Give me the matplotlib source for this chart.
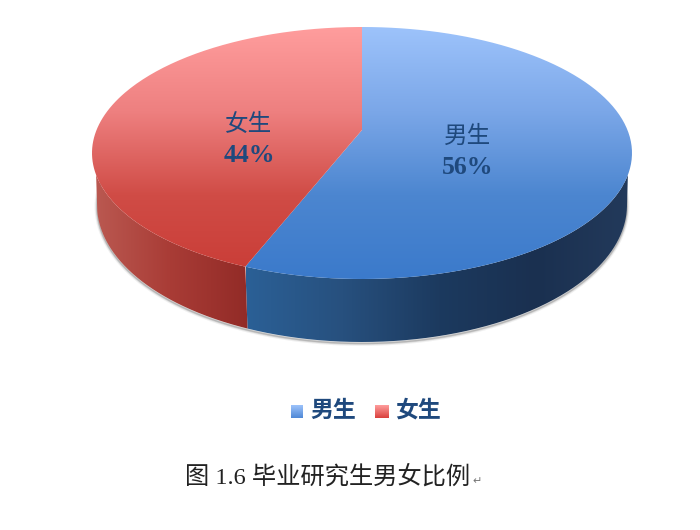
import numpy as np
import matplotlib
matplotlib.use('Agg')
import matplotlib.pyplot as plt
from matplotlib.colors import LinearSegmentedColormap
from matplotlib.path import Path
from matplotlib.patches import PathPatch

# 数据
categories = ['男生', '女生']
shares = [56, 44]
caption = '图 1.6 毕业研究生男女比例'

plt.rcParams['font.family'] = ['Noto Sans CJK SC', 'DejaVu Sans']
serif = ['Liberation Serif', 'Noto Sans CJK SC']

W, H = 700, 530
fig = plt.figure(figsize=(W / 100, H / 100), dpi=100, facecolor='white')
ax = fig.add_axes([0, 0, 1, 1])
ax.axis('off')

# 椭圆参数
cx, cy, rx, ry = 362, 153, 270, 126
bot_rx, bot_cy, bot_ry = 265, 205, 137   # 底面椭圆(透视后略小)
apex = (362, 130)
skew = 4   # 透视造成的角度偏移


def arc(a, b, n=200):
    t = np.radians(np.linspace(a, b, n))
    return np.column_stack([cx + rx * np.sin(t), cy - ry * np.cos(t)])


def bottom_arc(a, b, n=200):
    t = np.radians(np.linspace(a, b, n))
    return np.column_stack([cx + bot_rx * np.sin(t), bot_cy - bot_ry * np.cos(t)])


def fill_gradient(verts, colors, extent, vertical=True):
    # 用裁剪后的渐变图片画面
    cmap = LinearSegmentedColormap.from_list('g', colors)
    g = np.linspace(0, 1, 256)
    img = g[:, None] if vertical else g[None, :]
    im = ax.imshow(img, cmap=cmap, extent=extent, aspect='auto', interpolation='bilinear', zorder=2)
    patch = PathPatch(Path(np.vstack([verts, verts[0]])), transform=ax.transData, fc='none', ec='none')
    ax.add_patch(patch)
    im.set_clip_path(patch)


split = 360 * shares[0] / sum(shares) + skew

# 阴影
shadow = bottom_arc(80, 280)
for lw, alpha in [(3.5, 0.08), (2, 0.14), (1, 0.22)]:
    ax.plot(shadow[:, 0], shadow[:, 1] + 1.5, color='#444444', lw=lw, alpha=alpha, zorder=1)

# 侧面
wall_blue = np.vstack([arc(100, split), bottom_arc(90, split)[::-1]])
fill_gradient(wall_blue, ['#2b6096', '#27507e', '#1c3a5f', '#1a3050', '#233a5b'],
              (246, 632, H, 0), vertical=False)

wall_red = np.vstack([arc(split, 260), bottom_arc(split, 270)[::-1]])
fill_gradient(wall_red, ['#bb5a52', '#a93c36', '#922b27'], (92, 248, H, 0), vertical=False)

# 顶面
top_blue = np.vstack([[apex], arc(0, split)])
fill_gradient(top_blue, ['#9dc3fb', '#7ba7e8', '#4c86d0', '#3b7acb'], (92, 632, 279, 27))

top_red = np.vstack([[apex], arc(split, 360)])
fill_gradient(top_red, ['#ff9d9d', '#ee8080', '#d04c46', '#c93c36'], (92, 632, 279, 27))

# 标签
label_color = '#1f497d'
ax.text(468, 136, categories[0], fontsize=17, color=label_color, ha='center', va='center', fontweight='medium', zorder=5)
ax.text(468, 167, f'{shares[0]}%', fontsize=18.5, color=label_color, ha='center', va='center',
        fontweight='bold', family=serif, zorder=5)
ax.text(249, 124, categories[1], fontsize=17, color=label_color, ha='center', va='center', fontweight='medium', zorder=5)
ax.text(249, 155, f'{shares[1]}%', fontsize=18.5, color=label_color, ha='center', va='center',
        fontweight='bold', family=serif, zorder=5)

# 图例
def swatch(x0, x1, colors):
    verts = np.array([[x0, 405], [x1, 405], [x1, 418], [x0, 418]])
    fill_gradient(verts, colors, (x0, x1, 418, 405))


swatch(291, 303, ['#9dc3fb', '#4f88d6'])
swatch(375, 389, ['#ff9d9d', '#d9403c'])
ax.text(310, 410, categories[0], fontsize=16.5, color=label_color, va='center', fontweight='bold', zorder=5)
ax.text(395, 410, categories[1], fontsize=16.5, color=label_color, va='center', fontweight='bold', zorder=5)

# 图注
ax.text(185, 477, caption, fontsize=17.5, color='#222222', va='center', family=serif, zorder=5)
ax.text(472, 481, '↵', fontsize=8, color='#777777', va='center', family='DejaVu Sans', zorder=5)

ax.set_xlim(0, W)
ax.set_ylim(H, 0)

fig.savefig('out.png', dpi=100)
